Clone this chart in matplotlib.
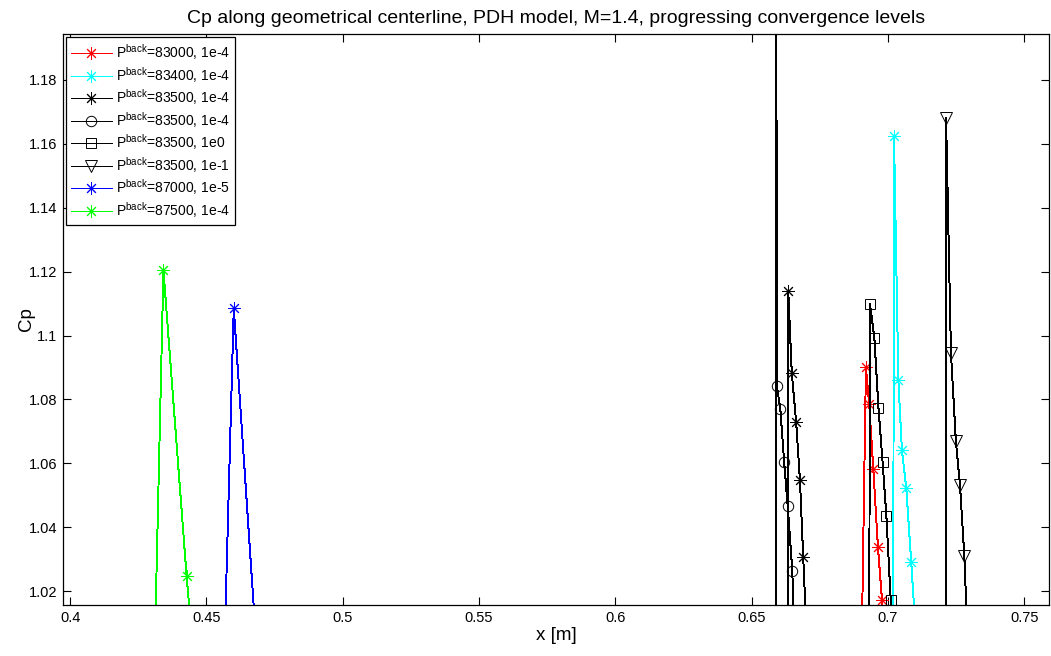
import matplotlib
matplotlib.use('Agg')
import matplotlib.pyplot as plt
from matplotlib.ticker import FormatStrFormatter, MultipleLocator

plt.rcParams['font.family'] = ['Liberation Sans', 'DejaVu Sans']
plt.rcParams['mathtext.fontset'] = 'custom'
plt.rcParams['mathtext.rm'] = 'Liberation Sans'
plt.rcParams['lines.antialiased'] = False

# Cp profiles, points outside the visible window are kept so the lines get clipped like in the original
x_83000 = [0.6903, 0.6919, 0.6931, 0.6946, 0.6963, 0.6978, 0.6990]
cp_83000 = [1.000, 1.0900, 1.0785, 1.0583, 1.0339, 1.0172, 0.995]

x_83400 = [0.7019, 0.7022, 0.7038, 0.7051, 0.7067, 0.7085, 0.7107]
cp_83400 = [1.000, 1.1625, 1.0860, 1.0641, 1.0523, 1.0292, 1.000]

x_83500_a = [0.6631, 0.6634, 0.6647, 0.6663, 0.6677, 0.6689, 0.6702]
cp_83500_a = [1.000, 1.1140, 1.0883, 1.0729, 1.0547, 1.0305, 1.005]

x_83500_b = [0.65888, 0.65895, 0.6592, 0.6605, 0.6619, 0.6632, 0.6649, 0.6657]
cp_83500_b = [0.980, 1.300, 1.0843, 1.0770, 1.0605, 1.0466, 1.0263, 1.000]

x_83500_c = [0.6931, 0.6934, 0.6950, 0.6965, 0.6980, 0.6994, 0.7010, 0.7015]
cp_83500_c = [1.000, 1.1098, 1.0992, 1.0773, 1.0605, 1.0435, 1.0172, 1.005]

x_83500_d = [0.7212, 0.7213, 0.7231, 0.7249, 0.7264, 0.7280, 0.7292]
cp_83500_d = [1.000, 1.1680, 1.0944, 1.0669, 1.0532, 1.0310, 1.005]

x_87000 = [0.4562, 0.4600, 0.4693]
cp_87000 = [0.990, 1.1085, 0.990]

x_87500 = [0.4307, 0.4342, 0.4427, 0.4452]
cp_87500 = [0.990, 1.1204, 1.0247, 1.000]

labels = [r'P$^{\mathrm{back}}$=83000, 1e-4',
          r'P$^{\mathrm{back}}$=83400, 1e-4',
          r'P$^{\mathrm{back}}$=83500, 1e-4',
          r'P$^{\mathrm{back}}$=83500, 1e-4',
          r'P$^{\mathrm{back}}$=83500, 1e0',
          r'P$^{\mathrm{back}}$=83500, 1e-1',
          r'P$^{\mathrm{back}}$=87000, 1e-5',
          r'P$^{\mathrm{back}}$=87500, 1e-4']

asterisk = (8, 2, 0)
lw = 0.7

fig = plt.figure(figsize=(10.51, 6.56), dpi=100)
ax = fig.add_axes([63 / 1051, 51 / 656, 986 / 1051, 571 / 656])

ax.plot(x_83000, cp_83000, color='#ff0000', marker=asterisk, ms=9, mew=lw, lw=lw, label=labels[0])
ax.plot(x_83400, cp_83400, color='#00ffff', marker=asterisk, ms=9, mew=lw, lw=lw, label=labels[1])
ax.plot(x_83500_a, cp_83500_a, color='k', marker=asterisk, ms=9, mew=lw, lw=lw, label=labels[2])
ax.plot(x_83500_b, cp_83500_b, color='k', marker='o', mfc='none', ms=7.5, mew=lw, lw=lw, label=labels[3])
ax.plot(x_83500_c, cp_83500_c, color='k', marker='s', mfc='none', ms=7, mew=lw, lw=lw, label=labels[4])
ax.plot(x_83500_d, cp_83500_d, color='k', marker='v', mfc='none', ms=8, mew=lw, lw=lw, label=labels[5])
ax.plot(x_87000, cp_87000, color='#0000ff', marker=asterisk, ms=9, mew=lw, lw=lw, label=labels[6])
ax.plot(x_87500, cp_87500, color='#00ff00', marker=asterisk, ms=9, mew=lw, lw=lw, label=labels[7])

ax.set_xlim(0.39736, 0.75906)
ax.set_ylim(1.01562, 1.19440)
ax.xaxis.set_major_locator(MultipleLocator(0.05))
ax.yaxis.set_major_locator(MultipleLocator(0.02))
ax.xaxis.set_major_formatter(FormatStrFormatter('%g'))
ax.yaxis.set_major_formatter(FormatStrFormatter('%g'))
ax.tick_params(direction='in', top=True, right=True, length=6, width=0.8, labelsize=10.5, pad=4)
for s in ax.spines.values():
    s.set_linewidth(0.9)

ax.set_title('Cp along geometrical centerline, PDH model, M=1.4, progressing convergence levels',
             fontsize=14, pad=8)
ax.set_xlabel('x [m]', fontsize=13.5, labelpad=2)
ax.set_ylabel('Cp', fontsize=13.5, labelpad=-4)

leg = ax.legend(loc='upper left', fontsize=10, fancybox=False, framealpha=1, edgecolor='k',
                borderaxespad=0.25, handlelength=2.9, handletextpad=0.3, labelspacing=0.19,
                borderpad=0.35)
leg.get_frame().set_linewidth(0.9)

plt.savefig('out.png', dpi=100)
